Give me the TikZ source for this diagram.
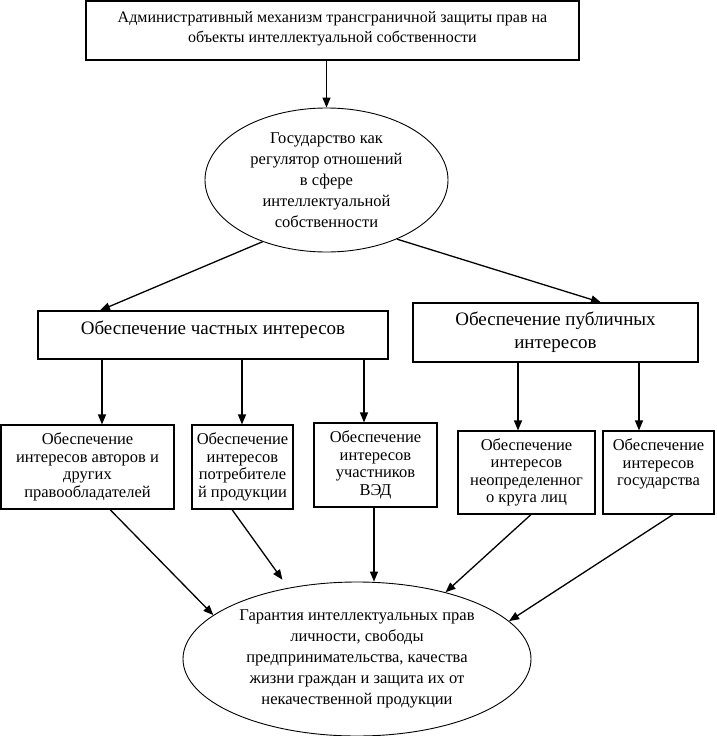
\documentclass[tikz,border=0pt]{standalone}
\usepackage{fontspec}
\setmainfont{Liberation Serif}
\usepackage{tikz}
\usetikzlibrary{shapes, arrows.meta, positioning}

\begin{document}
\begin{tikzpicture}[x=1pt, y=-1pt,
    box/.style={draw, rectangle, line width=1.1pt, align=center, inner sep=1pt,
        font=\fontsize{16.5}{17.5}\selectfont},
    bigbox/.style={box, font=\fontsize{19}{23}\selectfont},
    oval/.style={draw, ellipse, line width=0.9pt, align=center, inner sep=0pt,
        font=\fontsize{16.5}{21}\selectfont},
    arr/.style={-{Triangle[length=10pt, width=8pt]}, line width=1.3pt}]
    \useasboundingbox (0,0) rectangle (716,736);

    % верхний уровень
    \node[box, minimum width=493pt, minimum height=59pt, font=\fontsize{16}{20}\selectfont] (mech) at (332.5,30.5)
        {Административный механизм трансграничной защиты прав на\\объекты интеллектуальной собственности\\[-13pt]};
    \node[oval, minimum width=243pt, minimum height=144pt] (state) at (326.5,180)
        {Государство как\\регулятор отношений\\в сфере\\интеллектуальной\\собственности};

    % интересы
    \node[bigbox, minimum width=350pt, minimum height=48pt] (priv) at (213,335)
        {Обеспечение частных интересов\\[-9pt]};
    \node[bigbox, minimum width=285pt, minimum height=59pt] (pub) at (555.5,332.5)
        {Обеспечение публичных\\интересов};

    \node[box, minimum width=173pt, minimum height=84pt] (authors) at (87.5,467)
        {Обеспечение\\интересов авторов и\\других\\правообладателей};
    \node[box, minimum width=101pt, minimum height=84pt] (consumers) at (242.5,467)
        {Обеспечение\\интересов\\потребителе\\й продукции};
    \node[box, minimum width=123pt, minimum height=84pt] (fea) at (375.5,465)
        {Обеспечение\\интересов\\участников\\ВЭД};
    \node[box, minimum width=137pt, minimum height=83pt] (persons) at (526.5,472.5)
        {Обеспечение\\интересов\\неопределенног\\о круга лиц};
    \node[box, minimum width=111pt, minimum height=83pt] (gov) at (658.5,472.5)
        {Обеспечение\\интересов\\государства\\[3pt]};

    \node[oval, minimum width=348pt, minimum height=154pt] (guarantee) at (357,659)
        {Гарантия интеллектуальных прав\\личности, свободы\\предпринимательства, качества\\жизни граждан и защита их от\\некачественной продукции};

    % стрелки
    \draw[arr] (mech.south -| state.north) -- (state.north);
    \draw[arr] (state.224) -- (priv.north -| 100,0);
    \draw[arr] (state.320) -- (pub.north -| 601,0);

    \draw[arr] (priv.south -| 102,0) -- (authors.north -| 102,0);
    \draw[arr] (priv.south -| 242,0) -- (consumers.north -| 242,0);
    \draw[arr] (priv.south -| 364,0) -- (fea.north -| 364,0);
    \draw[arr] (pub.south -| 518,0) -- (persons.north -| 518,0);
    \draw[arr] (pub.south -| 639,0) -- (gov.north -| 639,0);

    \draw[arr] (authors.south -| 110,0) -- (guarantee.163);
    \draw[arr, shorten >=10pt] (consumers.south -| 232,0) -- (guarantee.134);
    \draw[arr] (fea.south -| 374,0) -- (guarantee.north -| 374,0);
    \draw[arr] (persons.south -| 531,0) -- (guarantee.37);
    \draw[arr] (gov.south -| 673,0) -- (guarantee.14);
\end{tikzpicture}
\end{document}
